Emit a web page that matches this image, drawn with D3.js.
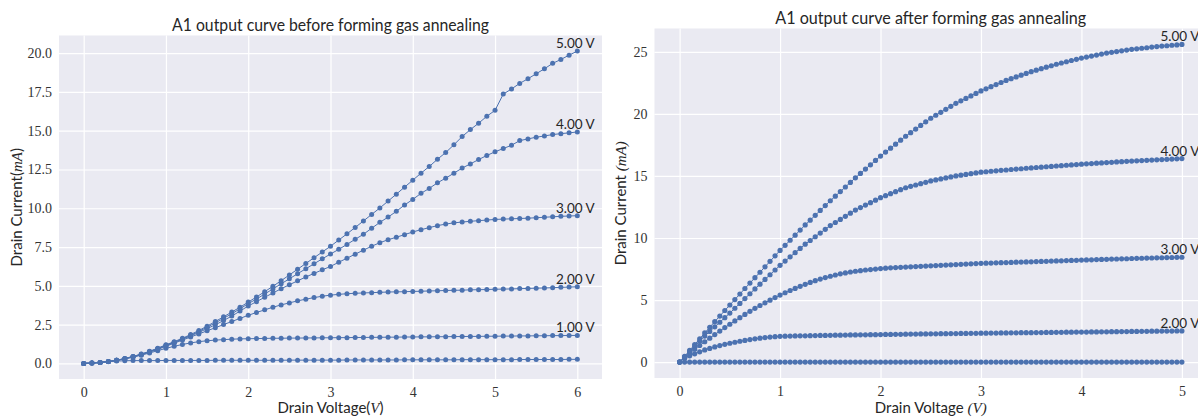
<!DOCTYPE html>
<html>
<head>
<meta charset="utf-8">
<script src="https://cdn.jsdelivr.net/npm/d3@7"></script>
<style>
  body { margin: 0; background: #fff; }
  svg { font-family: Lato, "Open Sans", sans-serif; }
</style>
</head>
<body>
<svg id="chart" width="1198" height="417"></svg>
<script>
// ---- data: drain voltage sweeps ----
// left panel: 0..6 V in 0.1 V steps, right panel: 0..5 V in 0.05 V steps
const vdBefore = d3.range(61).map(i => i / 10);
const vdAfter = d3.range(101).map(i => i / 20);

// Drain current (mA) before forming gas anneal, one array per gate voltage
const before0V = [0, 0.02, 0.06, 0.11, 0.15, 0.17, 0.18, 0.18, 0.18, 0.18, 0.19,
  0.19, 0.19, 0.19, 0.19, 0.19, 0.2, 0.2, 0.2, 0.2, 0.2,
  0.2, 0.2, 0.2, 0.2, 0.21, 0.21, 0.21, 0.21, 0.21, 0.21,
  0.21, 0.22, 0.22, 0.22, 0.22, 0.22, 0.22, 0.22, 0.23, 0.23,
  0.23, 0.23, 0.23, 0.23, 0.23, 0.24, 0.24, 0.24, 0.24, 0.24,
  0.24, 0.24, 0.25, 0.25, 0.25, 0.25, 0.25, 0.25, 0.26, 0.26];
const before1V = [0, 0.02, 0.06, 0.12, 0.2, 0.29, 0.4, 0.53, 0.67, 0.82, 0.97,
  1.1, 1.22, 1.32, 1.4, 1.46, 1.5, 1.53, 1.56, 1.58, 1.59,
  1.6, 1.61, 1.62, 1.62, 1.63, 1.63, 1.64, 1.64, 1.65, 1.65,
  1.66, 1.66, 1.67, 1.67, 1.68, 1.68, 1.69, 1.69, 1.7, 1.7,
  1.71, 1.71, 1.72, 1.72, 1.73, 1.73, 1.74, 1.74, 1.75, 1.75,
  1.76, 1.76, 1.77, 1.77, 1.78, 1.78, 1.79, 1.79, 1.8, 1.8];
const before2V = [0, 0.02, 0.06, 0.12, 0.2, 0.3, 0.42, 0.56, 0.72, 0.9, 1.1,
  1.3, 1.5, 1.7, 1.9, 2.1, 2.3, 2.5, 2.7, 2.9, 3.1,
  3.28, 3.45, 3.62, 3.77, 3.9, 4.03, 4.14, 4.24, 4.33, 4.4,
  4.45, 4.49, 4.52, 4.54, 4.56, 4.58, 4.6, 4.61, 4.62, 4.64,
  4.65, 4.67, 4.68, 4.7, 4.71, 4.72, 4.74, 4.75, 4.76, 4.78,
  4.79, 4.8, 4.82, 4.83, 4.85, 4.86, 4.88, 4.9, 4.92, 4.94];
const before3V = [0, 0.02, 0.06, 0.12, 0.2, 0.3, 0.43, 0.58, 0.75, 0.94, 1.14,
  1.34, 1.55, 1.77, 2.0, 2.24, 2.49, 2.76, 3.05, 3.37, 3.7,
  3.98, 4.26, 4.54, 4.81, 5.07, 5.32, 5.57, 5.8, 6.03, 6.25,
  6.52, 6.78, 7.04, 7.3, 7.55, 7.78, 7.97, 8.13, 8.3, 8.47,
  8.62, 8.75, 8.88, 8.98, 9.06, 9.11, 9.16, 9.2, 9.24, 9.28,
  9.3, 9.32, 9.34, 9.36, 9.39, 9.42, 9.45, 9.48, 9.5, 9.52];
const before4V = [0, 0.02, 0.06, 0.12, 0.2, 0.31, 0.44, 0.59, 0.76, 0.96, 1.17,
  1.37, 1.58, 1.81, 2.06, 2.33, 2.61, 2.9, 3.2, 3.52, 3.85,
  4.15, 4.47, 4.8, 5.13, 5.45, 5.78, 6.1, 6.42, 6.74, 7.05,
  7.35, 7.67, 8.0, 8.32, 8.71, 9.09, 9.43, 9.8, 10.21, 10.57,
  10.96, 11.28, 11.64, 11.94, 12.26, 12.59, 12.86, 13.14, 13.4, 13.64,
  13.85, 14.06, 14.36, 14.47, 14.58, 14.66, 14.75, 14.81, 14.86, 14.92];
const before5V = [0, 0.02, 0.06, 0.12, 0.2, 0.32, 0.45, 0.6, 0.78, 0.98, 1.2,
  1.4, 1.62, 1.86, 2.12, 2.4, 2.7, 3.0, 3.31, 3.62, 3.95,
  4.28, 4.62, 4.97, 5.33, 5.7, 6.07, 6.44, 6.81, 7.18, 7.55,
  7.95, 8.35, 8.76, 9.18, 9.6, 10.02, 10.46, 10.91, 11.36, 11.81,
  12.26, 12.69, 13.16, 13.59, 14.09, 14.62, 15.07, 15.48, 15.93, 16.31,
  17.36, 17.69, 18.05, 18.35, 18.67, 18.99, 19.34, 19.59, 19.87, 20.13];

// Drain current (mA) after forming gas anneal
const after0V = [0,
  0, 0, 0, 0, 0, 0, 0, 0, 0, 0,
  0, 0, 0, 0, 0, 0, 0, 0, 0, 0,
  0, 0, 0, 0, 0, 0, 0, 0, 0, 0,
  0, 0, 0, 0, 0, 0, 0, 0, 0, 0,
  0, 0, 0, 0, 0, 0, 0, 0, 0, 0,
  0, 0, 0, 0, 0, 0, 0, 0, 0, 0,
  0, 0, 0, 0, 0, 0, 0, 0, 0, 0,
  0, 0, 0, 0, 0, 0, 0, 0, 0, 0,
  0, 0, 0, 0, 0, 0, 0, 0, 0, 0,
  0, 0, 0, 0, 0, 0, 0, 0, 0, 0];
const after2V = [0, 0.32, 0.51, 0.67, 0.83, 0.98, 1.1, 1.22, 1.33, 1.43, 1.52,
  1.6, 1.68, 1.75, 1.82, 1.88, 1.93, 1.98, 2.02, 2.05, 2.08,
  2.09, 2.1, 2.11, 2.12, 2.12, 2.13, 2.14, 2.15, 2.15, 2.16,
  2.17, 2.17, 2.18, 2.19, 2.19, 2.2, 2.2, 2.21, 2.21, 2.22,
  2.23, 2.23, 2.24, 2.24, 2.25, 2.26, 2.26, 2.27, 2.27, 2.28,
  2.28, 2.29, 2.29, 2.3, 2.3, 2.31, 2.31, 2.32, 2.32, 2.33,
  2.33, 2.34, 2.34, 2.35, 2.35, 2.36, 2.36, 2.37, 2.37, 2.37,
  2.38, 2.38, 2.39, 2.39, 2.4, 2.4, 2.41, 2.41, 2.42, 2.42,
  2.42, 2.43, 2.43, 2.44, 2.44, 2.45, 2.45, 2.46, 2.46, 2.47,
  2.47, 2.48, 2.48, 2.49, 2.49, 2.5, 2.5, 2.5, 2.51, 2.51];
const after3V = [0, 0.38, 0.72, 1.04, 1.34, 1.64, 1.93, 2.22, 2.5, 2.78, 3.05,
  3.32, 3.58, 3.84, 4.09, 4.33, 4.56, 4.78, 4.99, 5.2, 5.4,
  5.59, 5.77, 5.94, 6.11, 6.27, 6.42, 6.56, 6.69, 6.81, 6.92,
  7.02, 7.11, 7.19, 7.26, 7.32, 7.37, 7.42, 7.46, 7.5, 7.54,
  7.57, 7.6, 7.62, 7.64, 7.66, 7.68, 7.7, 7.72, 7.74, 7.76,
  7.78, 7.8, 7.82, 7.84, 7.86, 7.88, 7.9, 7.92, 7.94, 7.96,
  7.97, 7.98, 8.0, 8.01, 8.02, 8.03, 8.05, 8.06, 8.07, 8.08,
  8.1, 8.11, 8.12, 8.14, 8.15, 8.16, 8.18, 8.19, 8.2, 8.22,
  8.23, 8.24, 8.26, 8.27, 8.28, 8.3, 8.31, 8.32, 8.33, 8.35,
  8.36, 8.37, 8.38, 8.39, 8.4, 8.41, 8.42, 8.43, 8.44, 8.45];
const after4V = [0, 0.43, 0.86, 1.27, 1.69, 2.1, 2.47, 2.84, 3.21, 3.58, 3.95,
  4.34, 4.73, 5.12, 5.51, 5.9, 6.28, 6.66, 7.04, 7.42, 7.8,
  8.14, 8.48, 8.82, 9.16, 9.5, 9.8, 10.1, 10.4, 10.7, 11.0,
  11.25, 11.5, 11.75, 12.0, 12.25, 12.45, 12.65, 12.85, 13.05, 13.25,
  13.41, 13.57, 13.73, 13.89, 14.05, 14.16, 14.27, 14.38, 14.49, 14.6,
  14.68, 14.76, 14.84, 14.92, 15.0, 15.06, 15.12, 15.18, 15.24, 15.3,
  15.34, 15.38, 15.41, 15.45, 15.48, 15.52, 15.55, 15.58, 15.62, 15.65,
  15.68, 15.71, 15.74, 15.77, 15.8, 15.83, 15.86, 15.89, 15.92, 15.95,
  15.98, 16.0, 16.03, 16.05, 16.08, 16.1, 16.13, 16.15, 16.18, 16.2,
  16.22, 16.24, 16.26, 16.28, 16.3, 16.32, 16.34, 16.36, 16.38, 16.4];
const after5V = [0, 0.47, 0.94, 1.41, 1.88, 2.35, 2.81, 3.26, 3.71, 4.16, 4.6,
  5.04, 5.49, 5.93, 6.37, 6.8, 7.24, 7.68, 8.12, 8.56, 9.0,
  9.41, 9.82, 10.23, 10.64, 11.05, 11.44, 11.83, 12.22, 12.61, 13.0,
  13.37, 13.74, 14.11, 14.48, 14.85, 15.2, 15.55, 15.9, 16.25, 16.6,
  16.92, 17.24, 17.56, 17.88, 18.2, 18.49, 18.78, 19.07, 19.36, 19.65,
  19.89, 20.13, 20.37, 20.61, 20.85, 21.05, 21.25, 21.45, 21.65, 21.85,
  22.02, 22.19, 22.36, 22.53, 22.7, 22.84, 22.98, 23.12, 23.26, 23.4,
  23.52, 23.64, 23.76, 23.88, 24.0, 24.1, 24.2, 24.3, 24.4, 24.5,
  24.58, 24.66, 24.74, 24.82, 24.9, 24.96, 25.02, 25.08, 25.14, 25.2,
  25.24, 25.29, 25.33, 25.38, 25.42, 25.46, 25.49, 25.53, 25.56, 25.6];

// curve labels (null = no label drawn)
const beforeLabels = [null, "1.00 V", "2.00 V", "3.00 V", "4.00 V", "5.00 V"];
const afterLabels = [null, "2.00 V", "3.00 V", "4.00 V", "5.00 V"];

// tick values
const beforeXTicks = [0, 1, 2, 3, 4, 5, 6];
const beforeYTicks = [0, 2.5, 5, 7.5, 10, 12.5, 15, 17.5, 20];
const afterXTicks = [0, 1, 2, 3, 4, 5];
const afterYTicks = [0, 5, 10, 15, 20, 25];

const COLOR = "#4c72b0";
const BG = "#eaeaf2";
const INK = "#262626";
const SERIF = "'Liberation Serif', 'DejaVu Serif', serif";
const svg = d3.select("#chart");

/**
 * drawPanel(p): one seaborn-darkgrid style axes with curves + labels
 */
function drawPanel(p) {
  const g = svg.append("g");

  // matplotlib-like 5% margins around the data
  const allY = p.series.flat();
  const [xMin, xMax] = d3.extent(p.vd);
  const [yMin, yMax] = d3.extent(allY);
  const xPad = (xMax - xMin) * 0.05;
  const yPad = (yMax - yMin) * 0.05;
  const x = d3.scaleLinear().domain([xMin - xPad, xMax + xPad]).range([p.left, p.right]);
  const y = d3.scaleLinear().domain([yMin - yPad, yMax + yPad]).range([p.bottom, p.top]);

  g.append("rect")
    .attr("x", p.left).attr("y", p.top)
    .attr("width", p.right - p.left).attr("height", p.bottom - p.top)
    .attr("fill", BG);

  // grid lines
  const gx = g.append("g")
    .attr("transform", `translate(0,${p.bottom})`)
    .call(d3.axisBottom(x).tickValues(p.xTicks).tickSize(-(p.bottom - p.top)).tickFormat(""));
  const gy = g.append("g")
    .attr("transform", `translate(${p.left},0)`)
    .call(d3.axisLeft(y).tickValues(p.yTicks).tickSize(-(p.right - p.left)).tickFormat(""));
  [gx, gy].forEach(a => {
    a.select(".domain").remove();
    a.selectAll("line").attr("stroke", "#fff").attr("stroke-width", 1.2);
  });

  // tick labels (mathtext serif digits)
  const tx = g.append("g")
    .attr("transform", `translate(0,${p.bottom})`)
    .call(d3.axisBottom(x).tickValues(p.xTicks).tickSize(0).tickPadding(8).tickFormat(p.xFmt));
  const ty = g.append("g")
    .attr("transform", `translate(${p.left},0)`)
    .call(d3.axisLeft(y).tickValues(p.yTicks).tickSize(0).tickPadding(7).tickFormat(p.yFmt));
  [tx, ty].forEach(a => {
    a.select(".domain").remove();
    a.selectAll("text")
      .style("font-family", SERIF)
      .style("font-size", "14px")
      .style("fill", "#333");
  });

  // curves
  const line = d3.line().x((d, i) => x(p.vd[i])).y(d => y(d));
  p.series.forEach((vals, k) => {
    g.append("path")
      .datum(vals)
      .attr("d", line)
      .attr("fill", "none")
      .attr("stroke", COLOR)
      .attr("stroke-width", 1);

    g.append("g").selectAll("circle")
      .data(vals)
      .enter()
      .append("circle")
      .attr("cx", (d, i) => x(p.vd[i]))
      .attr("cy", d => y(d))
      .attr("r", p.r)
      .attr("fill", COLOR);

    if (p.labels[k]) {
      const last = vals.length - 1;
      g.append("text")
        .attr("x", x(p.vd[last]) - 2)
        .attr("y", y(vals[last]) - 3)
        .attr("text-anchor", "middle")
        .attr("font-size", 13.5)
        .attr("fill", INK)
        .text(p.labels[k]);
    }
  });

  // title
  g.append("text")
    .attr("x", (p.left + p.right) / 2)
    .attr("y", p.titleY)
    .attr("text-anchor", "middle")
    .attr("font-size", 16.5)
    .attr("fill", INK)
    .attr("textLength", p.titleLen)
    .attr("lengthAdjust", "spacingAndGlyphs")
    .text(p.title);

  // axis labels; math parts in italic serif
  const addParts = (sel, parts) => parts.forEach(part => {
    const ts = sel.append("tspan").text(part.t);
    if (part.math) ts.style("font-family", SERIF).style("font-style", "italic");
  });

  const xl = g.append("text")
    .attr("x", (p.left + p.right) / 2)
    .attr("y", 413)
    .attr("text-anchor", "middle")
    .attr("font-size", 15)
    .attr("fill", INK);
  addParts(xl, p.xLabel);

  const yl = g.append("text")
    .attr("transform", `translate(${p.yLabelX},${(p.top + p.bottom) / 2}) rotate(-90)`)
    .attr("text-anchor", "middle")
    .attr("font-size", 15)
    .attr("fill", INK);
  addParts(yl, p.yLabel);
}

drawPanel({
  left: 59, right: 602, top: 35.5, bottom: 379,
  vd: vdBefore,
  series: [before0V, before1V, before2V, before3V, before4V, before5V],
  labels: beforeLabels,
  xTicks: beforeXTicks, yTicks: beforeYTicks,
  xFmt: d3.format("d"), yFmt: d3.format(".1f"),
  r: 2.5,
  title: "A1 output curve before forming gas annealing", titleY: 31, titleLen: 317,
  xLabel: [{ t: "Drain Voltage(" }, { t: "V", math: true }, { t: ")" }],
  yLabel: [{ t: "Drain Current(" }, { t: "mA", math: true }, { t: ")" }],
  yLabelX: 22
});

drawPanel({
  left: 654.5, right: 1207, top: 28.5, bottom: 378,
  vd: vdAfter,
  series: [after0V, after2V, after3V, after4V, after5V],
  labels: afterLabels,
  xTicks: afterXTicks, yTicks: afterYTicks,
  xFmt: d3.format("d"), yFmt: d3.format("d"),
  r: 2.6,
  title: "A1 output curve after forming gas annealing", titleY: 23.5, titleLen: 311,
  xLabel: [{ t: "Drain Voltage " }, { t: "(V)", math: true }],
  yLabel: [{ t: "Drain Current " }, { t: "(mA)", math: true }],
  yLabelX: 626
});
</script>
</body>
</html>
